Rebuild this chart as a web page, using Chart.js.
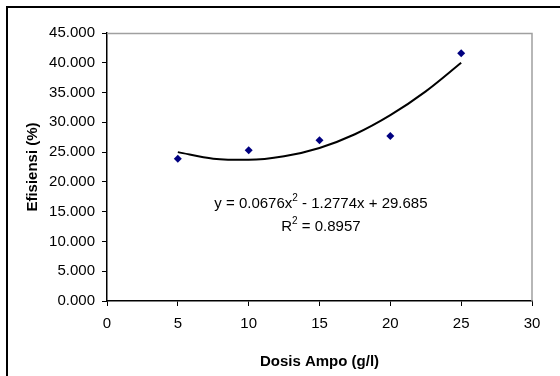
<!DOCTYPE html>
<html>
<head>
<meta charset="utf-8">
<script src="https://cdn.jsdelivr.net/npm/chart.js@4.4.0/dist/chart.umd.min.js"></script>
<style>
  html, body { margin: 0; padding: 0; background: #fff; overflow: hidden; }
  #wrap { position: relative; width: 560px; height: 376px; }
  #frame { position: absolute; left: 6px; top: 6px; width: 600px; height: 420px; border: 2px solid #000; box-sizing: border-box; }
  #chart { position: absolute; left: 0; top: 0; }
</style>
</head>
<body>
<div id="wrap">
  <div id="frame"></div>
  <canvas id="chart" width="560" height="376"></canvas>
</div>
<script>
// Datos observados (dosis vs eficiencia)
const dosis = [5, 10, 15, 20, 25];
const efisiensi = [23.9, 25.3, 27.0, 27.7, 41.6];

// Linea de tendencia
const trendX = [5, 7.5, 10, 12.5, 15, 17.5, 20, 22.5, 25];
const trendY = [25.0, 23.9, 23.7, 24.3, 25.7, 28.0, 31.2, 35.2, 40.0];

// Texto de la ecuacion
const eqParts = ['y = 0.0676x', '2', ' - 1.2774x + 29.685'];
const r2Parts = ['R', '2', ' = 0.8957'];

const FONT = '"Liberation Sans", Arial, sans-serif';

/**
 * Dibuja el marco gris del area del grafico
 */
const plotFrame = {
    id: 'plotFrame',
    beforeDatasetsDraw(chart) {
        const { ctx, chartArea: a } = chart;
        ctx.save();
        ctx.strokeStyle = '#a0a0a0';
        ctx.lineWidth = 1.5;
        ctx.beginPath();
        ctx.moveTo(a.left, a.top + 0.5);
        ctx.lineTo(a.right, a.top + 0.5);
        ctx.lineTo(a.right, a.bottom);
        ctx.stroke();
        ctx.restore();
    }
};

/**
 * Escribe la ecuacion y el R2 con superindice
 */
function drawSup(ctx, parts, cx, y) {
    ctx.font = '15px ' + FONT;
    const w0 = ctx.measureText(parts[0]).width;
    const w2 = ctx.measureText(parts[2]).width;
    ctx.font = '10px ' + FONT;
    const w1 = ctx.measureText(parts[1]).width;
    let x = cx - (w0 + w1 + w2) / 2;
    ctx.font = '15px ' + FONT;
    ctx.fillText(parts[0], x, y);
    x += w0;
    ctx.font = '10px ' + FONT;
    ctx.fillText(parts[1], x, y - 7);
    x += w1;
    ctx.font = '15px ' + FONT;
    ctx.fillText(parts[2], x, y);
}

const equationLabel = {
    id: 'equationLabel',
    afterDraw(chart) {
        const { ctx, scales } = chart;
        ctx.save();
        ctx.fillStyle = '#000';
        ctx.textBaseline = 'alphabetic';
        const cx = scales.x.getPixelForValue(15.1);
        drawSup(ctx, eqParts, cx, scales.y.getPixelForValue(15.6));
        drawSup(ctx, r2Parts, cx, scales.y.getPixelForValue(11.8));
        ctx.restore();
    }
};

const ctx = document.getElementById('chart');
new Chart(ctx, {
    type: 'scatter',
    data: {
        datasets: [
            {
                label: 'Tendencia',
                data: trendX.map((x, i) => ({ x: x, y: trendY[i] })),
                showLine: true,
                borderColor: '#000',
                borderWidth: 2,
                pointRadius: 0,
                cubicInterpolationMode: 'monotone',
                order: 2
            },
            {
                label: 'Efisiensi',
                data: dosis.map((x, i) => ({ x: x, y: efisiensi[i] })),
                pointStyle: 'rectRot',
                pointRadius: 4,
                backgroundColor: '#000080',
                borderColor: '#000080',
                borderWidth: 0,
                order: 1
            }
        ]
    },
    options: {
        responsive: false,
        animation: false,
        layout: { padding: { top: 33, right: 28, left: 0, bottom: 0 } },
        plugins: { legend: { display: false }, tooltip: { enabled: false } },
        scales: {
            x: {
                type: 'linear',
                min: 0, max: 30,
                afterFit(scale) { scale.height = 75; },
                border: { color: '#000', width: 1.5 },
                grid: { drawOnChartArea: false, tickLength: 5, color: '#000', lineWidth: 1 },
                ticks: { stepSize: 5, color: '#000', font: { family: FONT, size: 15 }, padding: 9, maxRotation: 0 },
                title: { display: true, text: 'Dosis Ampo (g/l)', color: '#000',
                         font: { family: FONT, size: 15, weight: 'bold' }, padding: { bottom: 5 } }
            },
            y: {
                min: 0, max: 45,
                afterFit(scale) { scale.width = 107; },
                border: { color: '#000', width: 1.5 },
                grid: { drawOnChartArea: false, tickLength: 5, color: '#000', lineWidth: 1 },
                ticks: { stepSize: 5, color: '#000', font: { family: FONT, size: 15 }, padding: 7,
                         callback: (v) => v.toFixed(3) },
                title: { display: true, text: 'Efisiensi (%)', color: '#000',
                         font: { family: FONT, size: 15, weight: 'bold' }, padding: { top: 24 } }
            }
        }
    },
    plugins: [plotFrame, equationLabel]
});
</script>
</body>
</html>
